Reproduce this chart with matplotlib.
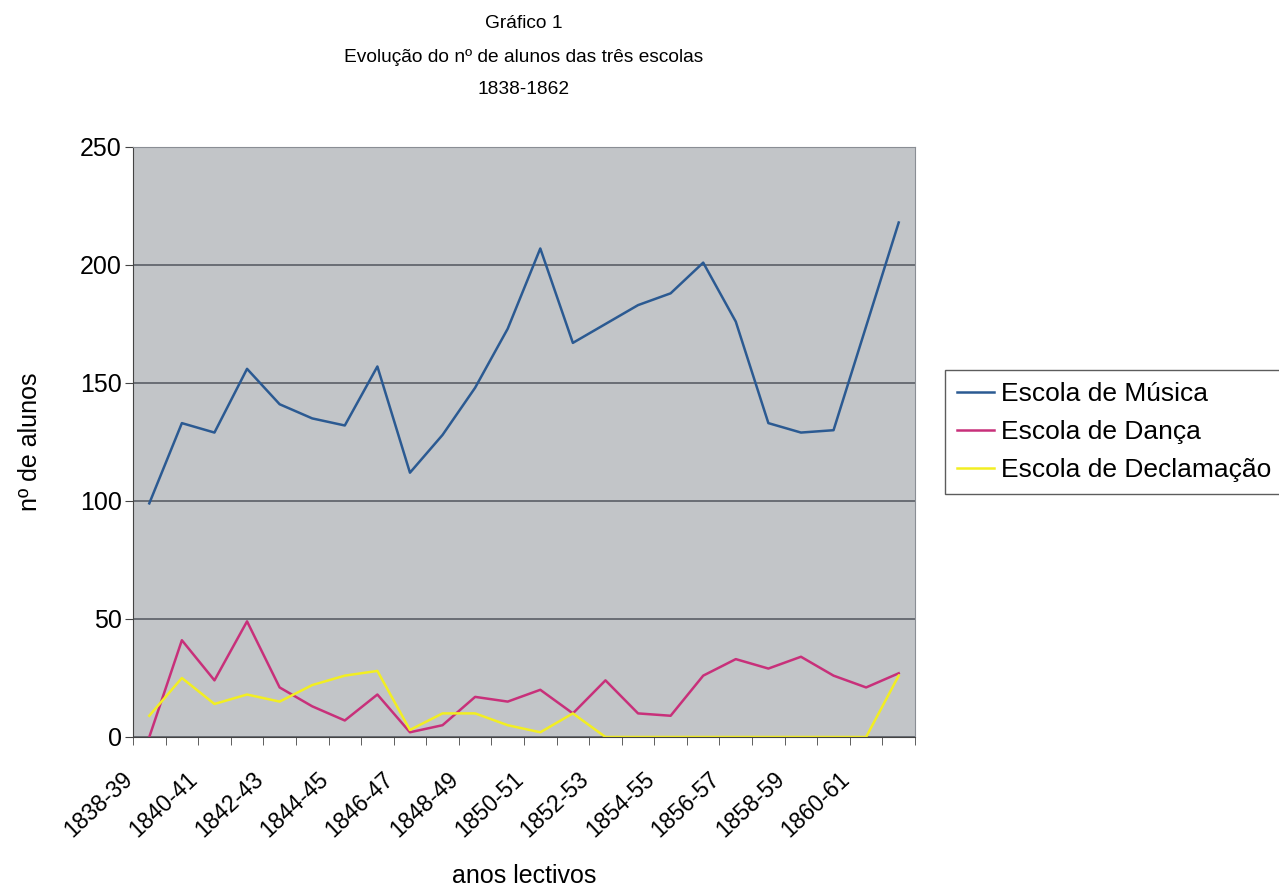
import numpy as np
import matplotlib.pyplot as plt
import matplotlib.transforms as mtransforms

plt.rcParams['font.family'] = ['Liberation Sans', 'DejaVu Sans']

anos = ['1838-39', '1839-40', '1840-41', '1841-42', '1842-43', '1843-44',
        '1844-45', '1845-46', '1846-47', '1847-48', '1848-49', '1849-50',
        '1850-51', '1851-52', '1852-53', '1853-54', '1854-55', '1855-56',
        '1856-57', '1857-58', '1858-59', '1859-60', '1860-61', '1861-62']

musica = [99, 133, 129, 156, 141, 135, 132, 157, 112, 128, 148, 173,
          207, 167, 175, 183, 188, 201, 176, 133, 129, 130, 174, 218]
danca = [0, 41, 24, 49, 21, 13, 7, 18, 2, 5, 17, 15,
         20, 10, 24, 10, 9, 26, 33, 29, 34, 26, 21, 27]
declamacao = [9, 25, 14, 18, 15, 22, 26, 28, 3, 10, 10, 5,
              2, 10, 0, 0, 0, 0, 0, 0, 0, 0, 0, 26]

fig = plt.figure(figsize=(12.79, 8.93), dpi=100)
ax = fig.add_axes([133 / 1279, 1 - 737 / 893, (915 - 133) / 1279, (737 - 147) / 893])
ax.set_facecolor('#c2c5c8')

x = np.arange(len(anos))
ax.plot(x, musica, color='#2b5a92', linewidth=1.8, label='Escola de Música')
ax.plot(x, danca, color='#c8307a', linewidth=1.8, label='Escola de Dança')
ax.plot(x, declamacao, color='#f2ee22', linewidth=1.8, label='Escola de Declamação')

ax.set_xlim(-0.5, len(anos) - 0.5)
ax.set_ylim(0, 250)
ax.set_yticks(np.arange(0, 251, 50))
ax.yaxis.grid(True, color='#5a5e66', linewidth=1.2)
ax.set_axisbelow(True)

ax.set_xticks(x[::2])
ax.set_xticklabels(anos[::2], rotation=43, ha='right', fontsize=16.5)
ax.set_xticks(np.arange(-0.5, len(anos), 1), minor=True)
ax.tick_params(axis='x', which='major', length=0, pad=22)
ax.tick_params(axis='x', which='minor', length=6, color='#444444')
ax.tick_params(axis='y', length=6, labelsize=18, color='#444444', pad=2)

# shift the rotated labels a bit to the left, as in the original
shift = mtransforms.ScaledTranslation(-12 / 100, 0, fig.dpi_scale_trans)
for lab in ax.get_xticklabels():
    lab.set_transform(lab.get_transform() + shift)

for s in ['top', 'right']:
    ax.spines[s].set_color('#8a8e94')
for s in ['left', 'bottom']:
    ax.spines[s].set_color('#444444')

ax.set_ylabel('nº de alunos', fontsize=18)
ax.yaxis.set_label_coords(-0.116, 0.5)
ax.set_xlabel('anos lectivos', fontsize=18, va='center')
ax.xaxis.set_label_coords(0.5, (737 - 876) / 590)

fig.text(524 / 1279, 1 - 23 / 893, 'Gráfico 1', ha='center', va='center', fontsize=13.8)
fig.text(524 / 1279, 1 - 57 / 893, 'Evolução do nº de alunos das três escolas', ha='center', va='center', fontsize=13.8)
fig.text(524 / 1279, 1 - 90 / 893, '1838-1862', ha='center', va='center', fontsize=13.8)

leg = fig.legend(loc='upper left', bbox_to_anchor=(945 / 1279, 1 - 370 / 893), fontsize=19,
                 frameon=True, fancybox=False, handlelength=1.4, handletextpad=0.25,
                 borderpad=0.47, labelspacing=0.52, borderaxespad=0)
leg.get_frame().set_edgecolor('#333333')
leg.get_frame().set_linewidth(1.0)

fig.savefig('out.png', dpi=100, facecolor='white')
